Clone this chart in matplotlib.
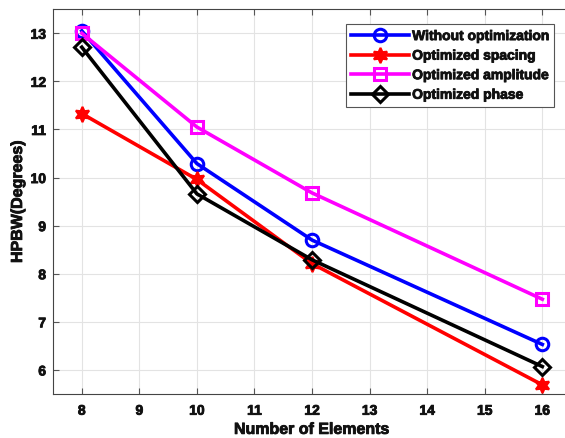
import matplotlib
matplotlib.use("Agg")
import matplotlib.pyplot as plt
import matplotlib.patheffects as pe

elements = [8, 10, 12, 16]
without_opt = [13.05, 10.29, 8.70, 6.53]
opt_spacing = [11.33, 9.96, 8.21, 5.69]
opt_amplitude = [13.00, 11.05, 9.68, 7.47]
opt_phase = [12.71, 9.66, 8.29, 6.07]
xticks = [8, 9, 10, 11, 12, 13, 14, 15, 16]
yticks = [6, 7, 8, 9, 10, 11, 12, 13]

plt.rcParams['font.family'] = ['Liberation Sans', 'DejaVu Sans']
plt.rcParams['font.weight'] = 'bold'

fig = plt.figure(figsize=(5.65, 4.38), dpi=100)
ax = fig.add_axes([0.0938, 0.1005, 0.917, 0.8785])

heavy = [pe.withStroke(linewidth=0.6, foreground='#111111')]

lw = 2.6
ax.plot(elements, without_opt, color='#0000ff', lw=lw, marker='o', ms=9,
        mfc='none', mew=2.2, label='Without optimization')
ax.plot(elements, opt_spacing, color='#ff0000', lw=lw, marker=(6, 1, 0), ms=11,
        mfc='#ff0000', mew=1.5, label='Optimized spacing')
ax.plot(elements, opt_amplitude, color='#ff00ff', lw=lw, marker='s', ms=8,
        mfc='none', mew=2.2, label='Optimized amplitude')
ax.plot(elements, opt_phase, color='black', lw=lw, marker='D', ms=8,
        mfc='none', mew=2.2, label='Optimized phase')

ax.set_xlim(7.5, 16.5)
ax.set_ylim(5.5, 13.5)
ax.set_xticks(xticks)
ax.set_yticks(yticks)
ax.grid(True, color='#e3e3e3', lw=0.8)
ax.set_axisbelow(True)
ax.tick_params(direction='in', top=True, right=True, labelsize=10, length=4,
               color='#555555', labelcolor='#111111')
ax.tick_params(axis='x', pad=7)
ax.tick_params(axis='y', pad=5)
for lab in ax.get_xticklabels() + ax.get_yticklabels():
    lab.set_fontweight('bold')
    lab.set_path_effects(heavy)
for s in ax.spines.values():
    s.set_color('#444444')
    s.set_linewidth(0.8)

xl = ax.set_xlabel('Number of Elements', fontsize=11.5, fontweight='bold',
                   labelpad=3, color='#111111')
yl = ax.set_ylabel('HPBW(Degrees)', fontsize=11.5, fontweight='bold',
                   labelpad=4, color='#111111')
xl.set_path_effects(heavy)
yl.set_path_effects(heavy)

leg = ax.legend(loc='upper right', bbox_to_anchor=(0.967, 0.961),
                prop={'weight': 'bold', 'size': 10}, fancybox=False, framealpha=1,
                edgecolor='#555555', handlelength=4.2, handletextpad=0.2,
                borderpad=0.35, labelspacing=0.4, borderaxespad=0)
leg.get_frame().set_linewidth(0.8)
for t in leg.get_texts():
    t.set_color('#111111')
    t.set_path_effects(heavy)

fig.savefig('out.png', dpi=100)
